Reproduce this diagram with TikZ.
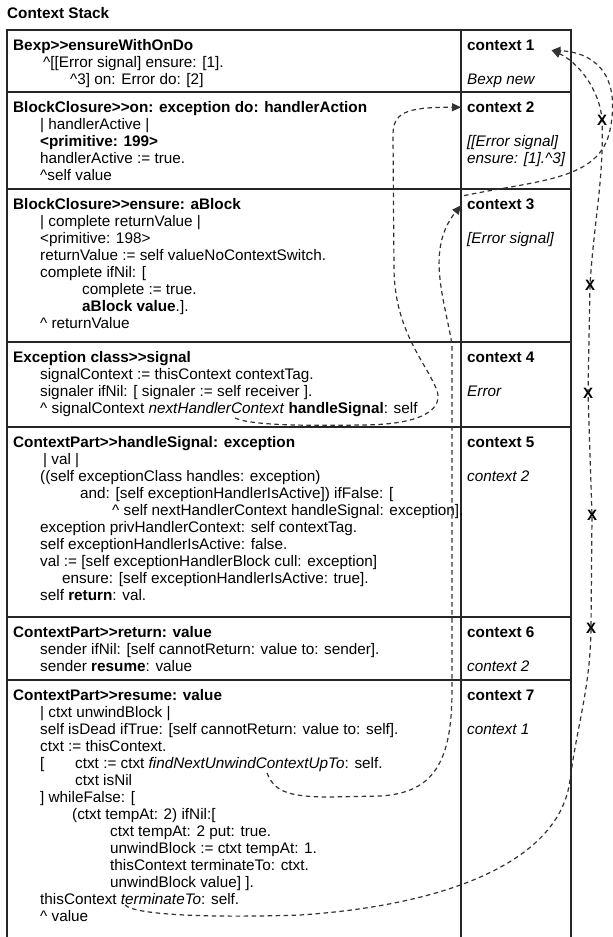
\documentclass[tikz,border=0pt]{standalone}
\usepackage{fontspec}
\setmainfont{Liberation Sans}
\usetikzlibrary{arrows.meta}

\newcommand{\codefont}{\fontsize{15.3}{17}\selectfont}
\newcommand{\cind}[1]{\hspace*{#1pt}}
\newcommand{\sendsto}{>\kern0pt>}

\begin{document}
\begin{tikzpicture}[
    x=1pt,
    y=1pt,
    code/.style={anchor=north west, inner sep=0pt, align=left, font=\codefont},
    ctxhead/.style={code, font=\codefont\bfseries},
    ctxval/.style={code, font=\codefont\itshape},
    grid/.style={line width=1.2pt, draw=black!85},
    flow/.style={dash pattern=on 4.5pt off 3.5pt, line width=1.2pt, draw=black!80, -{Triangle[length=9pt,width=8pt]}},
    xmark/.style={font=\fontsize{15}{15}\selectfont\bfseries, inner sep=0pt}
]
\useasboundingbox (0,0) rectangle (613,-937);

% stack table
\draw[grid] (7,-937) |- (571,-30) -- (571,-937);
\draw[grid] (461,-30) -- (461,-937);
\foreach \y in {92,189,342,427,617,680}
    \draw[grid] (7,-\y) -- (571,-\y);

\node[code, font=\codefont\bfseries] (title) at (7,-6.6) {\strut Context Stack};

% methods
\node[code] (m1) at (13,-38.6) {\strut\textbf{Bexp\sendsto ensureWithOnDo}\\
    \cind{30}\textasciicircum[[Error signal] ensure: [1].\\
    \cind{57}\textasciicircum 3] on: Error do: [2]};
\node[code] (m2) at (13,-100.6) {\strut\textbf{BlockClosure\sendsto on: exception do: handlerAction}\\
    \cind{27}| handlerActive |\\
    \cind{27}\textbf{<primitive: 199>}\\
    \cind{27}handlerActive := true.\\
    \cind{27}\textasciicircum self value};
\node[code] (m3) at (13,-197.6) {\strut\textbf{BlockClosure\sendsto ensure: aBlock}\\
    \cind{27}| complete returnValue |\\
    \cind{27}<primitive: 198>\\
    \cind{27}returnValue := self valueNoContextSwitch.\\
    \cind{27}complete ifNil: [\\
    \cind{69}complete := true.\\
    \cind{69}\textbf{aBlock value}.].\\
    \cind{27}\textasciicircum\ returnValue};
\node[code] (m4) at (13,-350.6) {\strut\textbf{Exception class\sendsto signal}\\
    \cind{27}signalContext := thisContext contextTag.\\
    \cind{27}signaler ifNil: [ signaler := self receiver ].\\
    \cind{27}\textasciicircum\ signalContext \textit{nextHandlerContext} \textbf{handleSignal}: self};
\node[code] (m5) at (13,-435.6) {\strut\textbf{ContextPart\sendsto handleSignal: exception}\\
    \cind{30}| val |\\
    \cind{27}((self exceptionClass handles: exception)\\
    \cind{67}and: [self exceptionHandlerIsActive]) ifFalse: [\\
    \cind{99}\textasciicircum\ self nextHandlerContext handleSignal: exception].\\
    \cind{27}exception privHandlerContext: self contextTag.\\
    \cind{27}self exceptionHandlerIsActive: false.\\
    \cind{27}val := [self exceptionHandlerBlock cull: exception]\\
    \cind{49}ensure: [self exceptionHandlerIsActive: true].\\
    \cind{27}self \textbf{return}: val.};
\node[code] (m6) at (13,-625.6) {\strut\textbf{ContextPart\sendsto return: value}\\
    \cind{27}sender ifNil: [self cannotReturn: value to: sender].\\
    \cind{27}sender \textbf{resume}: value};
\node[code] (m7) at (13,-688.6) {\strut\textbf{ContextPart\sendsto resume: value}\\
    \cind{27}| ctxt unwindBlock |\\
    \cind{27}self isDead ifTrue: [self cannotReturn: value to: self].\\
    \cind{27}ctxt := thisContext.\\
    \cind{27}\makebox[35pt][l]{[}ctxt := ctxt \textit{findNextUnwindContextUpTo}: self.\\
    \cind{62}ctxt isNil\\
    \cind{27}] whileFalse: [\\
    \cind{59}(ctxt tempAt: 2) ifNil:[\\
    \cind{97}ctxt tempAt: 2 put: true.\\
    \cind{97}unwindBlock := ctxt tempAt: 1.\\
    \cind{97}thisContext terminateTo: ctxt.\\
    \cind{97}unwindBlock value] ].\\
    \cind{27}thisContext \textit{terminateTo}: self.\\
    \cind{27}\textasciicircum\ value};

% contexts
\node[ctxhead] (ctx1) at (467,-38.6) {\strut context 1};
\node[ctxval] (val1) at (467,-72.6) {\strut Bexp new};
\node[ctxhead] (ctx2) at (467,-100.6) {\strut context 2};
\node[ctxval] (val2) at (467,-134.6) {\strut[[Error signal]\\ensure: [1].\textasciicircum 3]};
\node[ctxhead] (ctx3) at (467,-197.6) {\strut context 3};
\node[ctxval] (val3) at (467,-231.6) {\strut[Error signal]};
\node[ctxhead] (ctx4) at (467,-350.6) {\strut context 4};
\node[ctxval] (val4) at (467,-384.6) {\strut Error};
\node[ctxhead] (ctx5) at (467,-435.6) {\strut context 5};
\node[ctxval] (val5) at (467,-469.6) {\strut context 2};
\node[ctxhead] (ctx6) at (467,-625.6) {\strut context 6};
\node[ctxval] (val6) at (467,-659.6) {\strut context 2};
\node[ctxhead] (ctx7) at (467,-688.6) {\strut context 7};
\node[ctxval] (val7) at (467,-722.6) {\strut context 1};

% where the jumps start and land
\coordinate (nhc) at (235,-418);
\coordinate (findctx) at (267,-773);
\coordinate (termto) at (125,-905);
\coordinate (ctx1in) at ([xshift=17pt,yshift=-3pt]ctx1.east);
\coordinate (ctx2in) at ([xshift=-6pt,yshift=2pt]ctx2.west);
\coordinate (ctx3in) at ([xshift=-6pt,yshift=1pt]ctx3.west);
\coordinate (ctx3out) at ([xshift=-3pt,yshift=2pt]ctx3.north west);

\draw[flow] (nhc) .. controls (250,-425) and (300,-426) .. (360,-425)
    .. controls (425,-425) and (445,-408) .. (436,-388)
    .. controls (425,-362) and (395,-330) .. (394,-270)
    -- (393,-135)
    .. controls (393,-113) and (405,-107) .. (ctx2in);
\draw[flow] (findctx) .. controls (274,-790) and (285,-797) .. (330,-797)
    -- (380,-796)
    .. controls (435,-793) and (452,-760) .. (452,-690)
    -- (452,-345)
    .. controls (445,-300) and (425,-250) .. (ctx3in);
\draw[flow] (ctx3out) .. controls (540,-180) and (600,-180) .. (610,-130)
    .. controls (622,-70) and (590,-52) .. (ctx1in);
\draw[flow] (termto) .. controls (135,-915) and (210,-918) .. (300,-915)
    .. controls (450,-905) and (560,-860) .. (570,-780)
    .. controls (578,-720) and (590,-690) .. (591,-628) node[xmark] {X}
    -- (592,-515) node[xmark] {X}
    -- (588,-393) node[xmark] {X}
    -- (590,-285) node[xmark] {X}
    .. controls (594,-220) and (604,-180) .. (602,-120) node[xmark] {X}
    .. controls (600,-90) and (578,-62) .. (ctx1in);
\end{tikzpicture}
\end{document}
